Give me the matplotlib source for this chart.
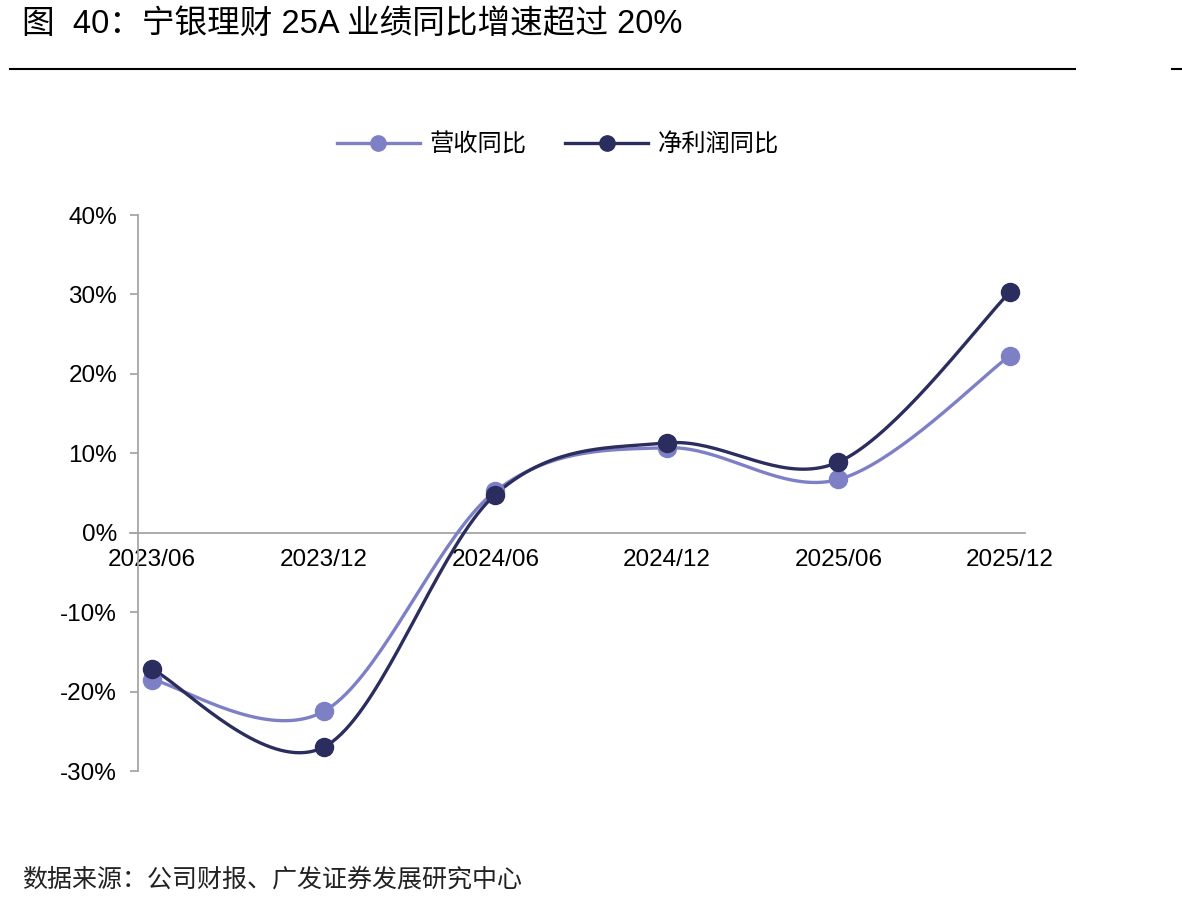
import matplotlib
matplotlib.use("Agg")
import matplotlib.pyplot as plt
from matplotlib.lines import Line2D
import numpy as np

plt.rcParams["font.family"] = ["Liberation Sans", "Noto Sans CJK SC", "DejaVu Sans"]

# --- data ---------------------------------------------------------
periods = ["2023/06", "2023/12", "2024/06", "2024/12", "2025/06", "2025/12"]
revenue_yoy = [-18.5, -22.5, 5.2, 10.7, 6.7, 22.3]     # 营收同比 (%)
profit_yoy = [-17.2, -27.0, 4.8, 11.3, 8.9, 30.3]      # 净利润同比 (%)
y_ticks = [-30, -20, -10, 0, 10, 20, 30, 40]

LIGHT = "#7E80C6"
DARK = "#2B2D5E"
GRID_GRAY = "#A6A6A6"


def smooth(xs, ys, n=40):
    """Excel-style smoothed line: Catmull-Rom Bezier through the points."""
    p = np.column_stack([xs, ys]).astype(float)
    ext = np.vstack([p[0], p, p[-1]])
    out = []
    for i in range(len(p) - 1):
        p0, p1 = ext[i + 1], ext[i + 2]
        c1 = p0 + (ext[i + 2] - ext[i]) / 6
        c2 = p1 - (ext[i + 3] - ext[i + 1]) / 6
        t = np.linspace(0, 1, n)[:, None]
        seg = ((1 - t) ** 3) * p0 + 3 * ((1 - t) ** 2) * t * c1 \
            + 3 * (1 - t) * t ** 2 * c2 + t ** 3 * p1
        out.append(seg if i == 0 else seg[1:])
    s = np.vstack(out)
    return s[:, 0], s[:, 1]


fig = plt.figure(figsize=(11.82, 9.07), dpi=100)
ax = fig.add_axes([138 / 1182, 1 - 771 / 907, (1025 - 138) / 1182, (771 - 215) / 907])

x = np.arange(len(periods))
for vals, color in [(revenue_yoy, LIGHT), (profit_yoy, DARK)]:
    sx, sy = smooth(x, vals)
    ax.plot(sx, sy, color=color, linewidth=2.4, solid_capstyle="round", zorder=3)
    ax.plot(x, vals, "o", color=color, markersize=13, zorder=4)

for side in ["top", "right"]:
    ax.spines[side].set_visible(False)
ax.spines["bottom"].set_position(("data", 0))
ax.spines["bottom"].set_color(GRID_GRAY)
ax.spines["bottom"].set_linewidth(1.3)
ax.spines["left"].set_color(GRID_GRAY)
ax.spines["left"].set_linewidth(1.3)

ax.set_xlim(-0.082, 5.087)
ax.set_ylim(-30, 40)
ax.set_yticks(y_ticks)
ax.set_yticklabels([f"{v}%" for v in y_ticks], fontsize=17.5)
ax.set_xticks(x)
ax.set_xticklabels(periods, fontsize=17.5)
ax.tick_params(axis="y", length=6, width=1.3, color=GRID_GRAY, pad=9)
ax.tick_params(axis="x", length=0, pad=12)
# extend zero line to the left like the tick marks
ax.plot([-0.082 - 8 / 171.6, -0.082], [0, 0], color=GRID_GRAY, lw=1.3, clip_on=False)

handles = [
    Line2D([], [], color=LIGHT, lw=2.4, marker="o", markersize=11, label="营收同比"),
    Line2D([], [], color=DARK, lw=2.4, marker="o", markersize=11, label="净利润同比"),
]
fig.legend(handles=handles, loc="center", bbox_to_anchor=(558 / 1182, 1 - 145 / 907),
           ncol=2, frameon=False, fontsize=17.5, handlelength=3.4,
           handletextpad=0.4, columnspacing=1.6)

fig.text(22 / 1182, 1 - 24 / 907, "图  40：宁银理财 25A 业绩同比增速超过 20%",
         fontsize=23.5, ha="left", va="center")
fig.add_artist(Line2D([10 / 1182, 1075 / 1182], [1 - 69 / 907] * 2, color="black", lw=1.5))
fig.add_artist(Line2D([1172 / 1182, 1182 / 1182], [1 - 69 / 907] * 2, color="black", lw=1.5))
fig.text(22 / 1182, 1 - 880 / 907, "数据来源：公司财报、广发证券发展研究中心",
         fontsize=18, ha="left", va="center", color="#222222")

fig.savefig("out.png", dpi=100)
